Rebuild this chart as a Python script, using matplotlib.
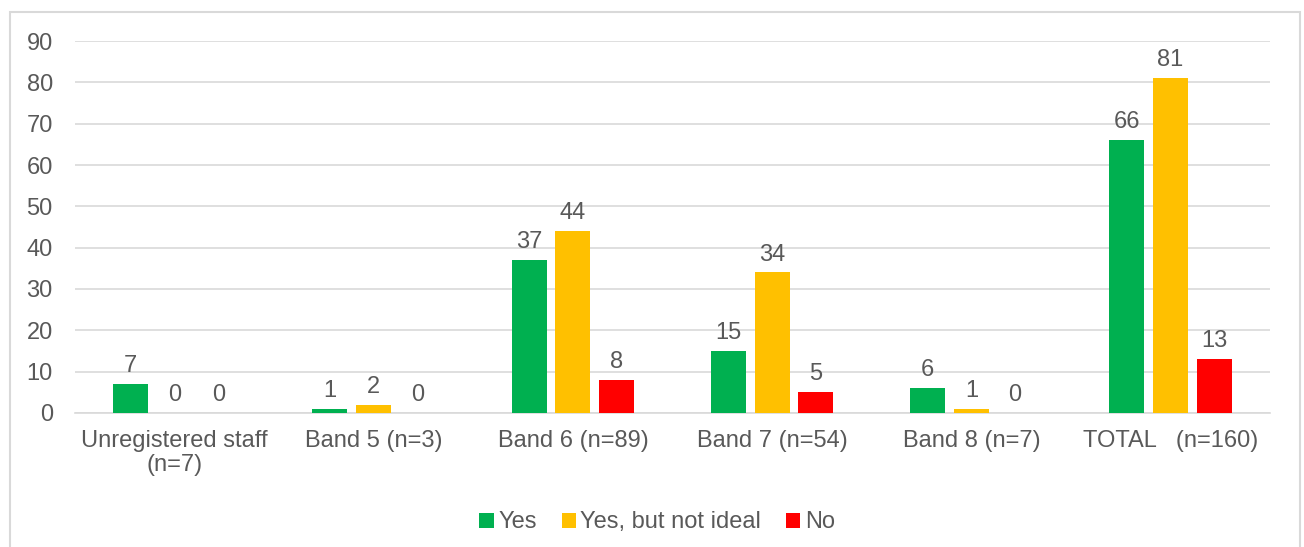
import matplotlib

matplotlib.use("Agg")
import matplotlib.pyplot as plt
import numpy as np
from matplotlib.patches import Rectangle

plt.rcParams.update({"font.family": ["Arial", "Liberation Sans", "DejaVu Sans"]})

CATEGORIES = [
    "Unregistered staff\n(n=7)",
    "Band 5 (n=3)",
    "Band 6 (n=89)",
    "Band 7 (n=54)",
    "Band 8 (n=7)",
    "TOTAL   (n=160)",
]
YES = [7, 1, 37, 15, 6, 66]
YES_NOT_IDEAL = [0, 2, 44, 34, 1, 81]
NO = [0, 0, 8, 5, 0, 13]

SERIES = [
    ("Yes", YES, "#00b050"),
    ("Yes, but not ideal", YES_NOT_IDEAL, "#ffc000"),
    ("No", NO, "#ff0000"),
]

TEXT = "#595959"
GRID = "#d9d9d9"
FS = 17

fig = plt.figure(figsize=(13.04, 5.47), dpi=100)
ax = fig.add_axes([0.0575, 0.245, 0.9165, 0.68])

x = np.arange(len(CATEGORIES))
width = 0.176
step = 0.22
for i, (name, vals, color) in enumerate(SERIES):
    bars = ax.bar(x + (i - 1) * step, vals, width, color=color, label=name, zorder=3)
    ax.bar_label(bars, labels=[str(v) for v in vals], padding=5, fontsize=FS, color=TEXT)

ax.set_xlim(-0.5, len(CATEGORIES) - 0.5)
ax.set_ylim(0, 90)
ax.set_yticks(range(0, 91, 10))
ax.set_xticks(x)
ax.set_xticklabels(CATEGORIES, fontsize=FS, color=TEXT, linespacing=1.15)
ax.tick_params(axis="y", labelsize=FS, labelcolor=TEXT, length=0, pad=16)
ax.tick_params(axis="x", length=0, pad=12)
ax.grid(axis="y", color=GRID, linewidth=1.2, zorder=0)
for side in ("top", "right", "left"):
    ax.spines[side].set_visible(False)
ax.spines["bottom"].set_color(GRID)
ax.spines["bottom"].set_linewidth(1.2)

ax.legend(
    loc="center",
    bbox_to_anchor=(0.504, 0.045),
    bbox_transform=fig.transFigure,
    ncol=3,
    frameon=False,
    fontsize=FS,
    labelcolor=TEXT,
    handlelength=0.6,
    handleheight=0.6,
    handletextpad=0.2,
    columnspacing=1.05,
)

# outer chart border
fig.add_artist(
    Rectangle(
        (10 / 1304, -0.05),
        1290 / 1304,
        1 - 12 / 547 + 0.05,
        transform=fig.transFigure,
        fill=False,
        edgecolor=GRID,
        linewidth=1.5,
    )
)

fig.savefig("out.png", dpi=100)
